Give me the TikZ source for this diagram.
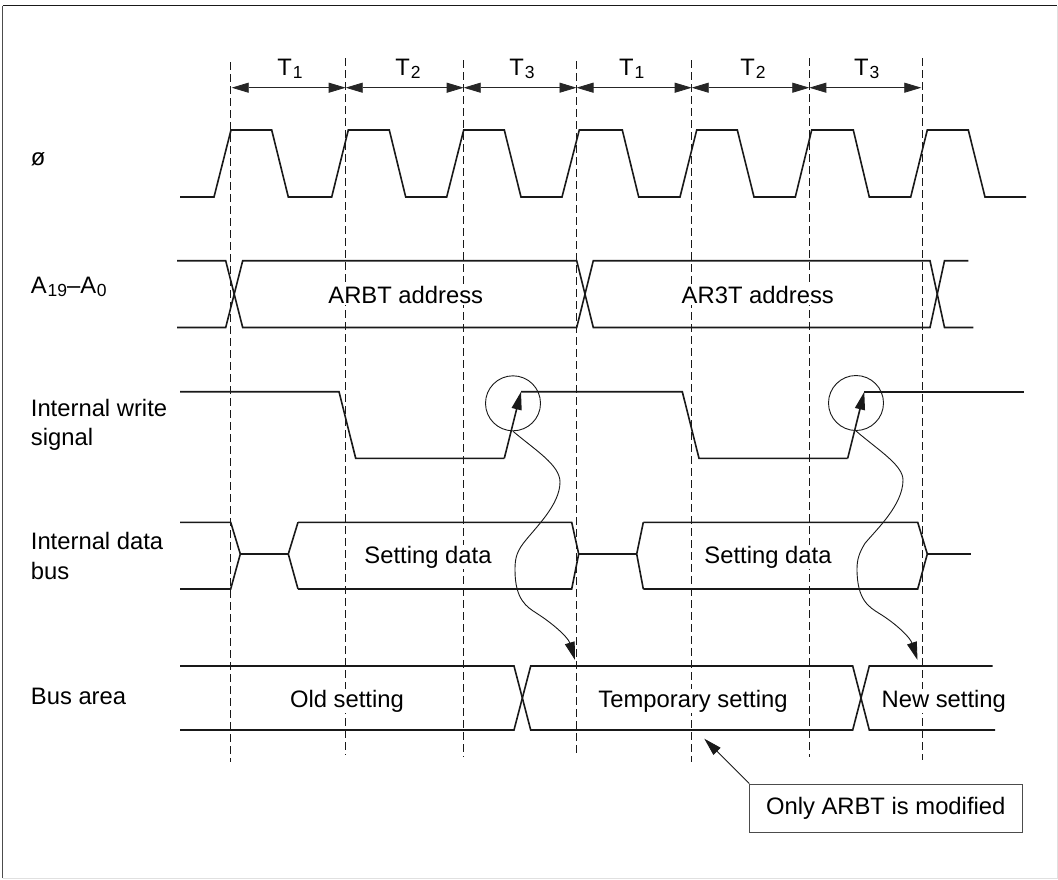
\documentclass[tikz,border=0pt]{standalone}
\usepackage{fontspec}
\setmainfont{Liberation Sans}
\usetikzlibrary{arrows.meta}
\newcommand{\subd}[1]{\kern0.8pt\raisebox{-3.5pt}{\fontsize{17.5}{17.5}\selectfont #1}}
\tikzset{
  sig/.style={line width=1.6pt,black!90,line join=miter},
  guide/.style={line width=0.9pt,black!90,dash pattern=on 7.5pt off 4.5pt},
  span/.style={line width=0.8pt,black!85,{Triangle[length=17pt,width=10pt]}-{Triangle[length=17pt,width=10pt]}},
  wave/.style={line width=0.9pt,black!90,-{Triangle[length=18pt,width=10pt]}},
  ring/.style={circle,draw,line width=0.9pt,black!90,minimum size=55pt,inner sep=0pt},
  lbl/.style={anchor=base west,inner sep=0pt,font=\fontsize{23.8}{24}\selectfont,text=black},
  txt/.style={anchor=base,inner sep=1pt,font=\fontsize{23.8}{24}\selectfont,text=black,fill=white},
  tlab/.style={anchor=base,inner sep=0pt,font=\fontsize{23.8}{24}\selectfont,text=black},
  note/.style={draw=black!70,line width=1.1pt,fill=white,anchor=north west,minimum width=273pt,minimum height=48.3pt,inner sep=0pt},
}
\begin{document}
\begin{tikzpicture}[x=1pt,y=-1pt]
\useasboundingbox (0,0) rectangle (1058,879);
\fill[white] (0,0) rectangle (1058,879);
% frame
\draw[line width=1pt,black!12] (1057.3,5.7) -- (1057.3,878.3) -- (2.7,878.3);
\draw[line width=1.5pt,black!70] (2.7,878.3) -- (2.7,5.7);
\draw[line width=1.3pt,black!90] (2.7,5.7) -- (1057.3,5.7);
% guide lines
\coordinate (g1t) at (230.7,62);  \coordinate (g1b) at (230.7,762);
\coordinate (g2t) at (345.7,58);  \coordinate (g2b) at (345.7,755);
\coordinate (g3t) at (463.7,60);  \coordinate (g3b) at (463.7,757);
\coordinate (g4t) at (576.3,61);  \coordinate (g4b) at (576.3,757);
\coordinate (g5t) at (691.7,60);  \coordinate (g5b) at (691.7,762);
\coordinate (g6t) at (809.3,58);  \coordinate (g6b) at (809.3,757);
\coordinate (g7t) at (922.3,58);  \coordinate (g7b) at (922.3,760);
\foreach \i in {1,...,7} \draw[guide] (g\i t) -- (g\i b);
% period arrows
\coordinate (a1) at (231.7,87.7); \coordinate (a2) at (345.7,87.7);
\coordinate (a3) at (463.7,87.7); \coordinate (a4) at (576.5,87.7);
\coordinate (a5) at (691.7,87.7); \coordinate (a6) at (809.3,87.7);
\coordinate (a7) at (921.3,87.7);
\foreach \i/\j in {1/2,2/3,3/4,4/5,5/6,6/7} \draw[span] (a\i) -- (a\j);
\node[tlab] (t1) at (290,75) {T\subd{1}};
\node[tlab] (t2) at (408,75) {T\subd{2}};
\node[tlab] (t3) at (522,75) {T\subd{3}};
\node[tlab] (t4) at (631.7,75) {T\subd{1}};
\node[tlab] (t5) at (753,75) {T\subd{2}};
\node[tlab] (t6) at (866.7,75) {T\subd{3}};
% clock
\draw[sig] (180,197) -- (214,197) -- (231,130) -- (271.7,130) -- (288.3,197) -- (331.7,197) -- (348.3,130)
  -- (389.3,130) -- (405.7,197) -- (446.7,197) -- (463.7,130) -- (504.3,130) -- (521,197) -- (562,197)
  -- (579.3,130) -- (622.3,130) -- (638.7,197) -- (680,197) -- (696.7,130) -- (737.3,130) -- (754,197)
  -- (795.3,197) -- (811.7,130) -- (853.3,130) -- (869.3,197) -- (910.7,197) -- (927.3,130) -- (968.3,130)
  -- (985,197) -- (1026,197);
% address bus
\draw[sig] (177,260.7) -- (225.7,260.7) -- (242.7,327.5) -- (576.7,327.5) -- (593.3,260.7) -- (930,260.7) -- (944.5,327.5) -- (973.3,327.5);
\draw[sig] (177,327.5) -- (225.7,327.5) -- (242.7,260.7) -- (576.7,260.7) -- (593.3,327.5) -- (930,327.5) -- (944.5,260.7) -- (968.3,260.7);
% write signal
\coordinate (w1) at (504.3,458.3); \coordinate (w1e) at (521,391.7);
\coordinate (w2) at (847.7,458.3); \coordinate (w2e) at (864.3,391.7);
\draw[sig] (180,391.7) -- (339,391.7) -- (355.7,458.3) -- (w1);
\draw[sig] (w1e) -- (682.3,391.7) -- (699,458.3) -- (w2);
\draw[sig] (w2e) -- (1023.7,391.7);
\draw[sig,-{Triangle[length=18pt,width=10pt]}] (w1) -- (w1e);
\draw[sig,-{Triangle[length=18pt,width=10pt]}] (w2) -- (w2e);
% data bus
\draw[sig] (180,522.3) -- (230.7,522.3) -- (240.3,554) -- (230.7,589) -- (180,589);
\draw[sig] (240.3,554) -- (288.3,554);
\draw[sig] (298,522.3) -- (288.3,554) -- (298,589);
\draw[sig] (298,522.3) -- (571.7,522.3) -- (578.7,554) -- (571.7,589) -- (298,589);
\draw[sig] (578.7,554) -- (636.7,554);
\draw[sig] (643.3,522.3) -- (636.7,554) -- (643.3,589);
\draw[sig] (643.3,522.3) -- (917.7,522.3) -- (927.3,554) -- (917.7,589) -- (643.3,589);
\draw[sig] (927.3,554) -- (970.7,554);
% bus area
\draw[sig] (180,666) -- (514,666) -- (530.7,730) -- (852.7,730) -- (869.3,666) -- (992.7,666);
\draw[sig] (180,730) -- (514,730) -- (530.7,666) -- (852.7,666) -- (869.3,730) -- (995,730);
% row labels
\node[lbl] (l1) at (30.7,165.7) {ø};
\node[lbl] (l2) at (30.7,293.3) {A\subd{19}–A\subd{0}};
\node[lbl] (l3) at (30.7,416.7) {Internal write};
\node[lbl] (l3b) at (30.7,445.7) {signal};
\node[lbl] (l4) at (30.7,549.3) {Internal data};
\node[lbl] (l4b) at (30.7,579.3) {bus};
\node[lbl] (l5) at (30.7,704) {Bus area};
% values
\node[txt] (v1) at (405.8,303.5) {ARBT address};
\node[txt] (v2) at (757.8,303.5) {AR3T address};
\node[txt] (v3) at (428,563.5) {Setting data};
\node[txt] (v4) at (768,563.5) {Setting data};
\node[txt] (v5) at (347,707.5) {Old setting};
\node[txt] (v6) at (693,707.5) {Temporary setting};
\node[txt] (v7) at (943.8,707.5) {New setting};
% circles and wavy arrows
\node[ring] (c1) at (513,403.3) {};
\node[ring] (c2) at (856,403) {};
\coordinate (e1) at (575,660);
\coordinate (e2) at (917.5,660);
\draw[wave] (c1.south) .. controls (535,450) and (560,465) .. (560,482)
  .. controls (560,505) and (535,528) .. (523.3,543.3)
  .. controls (516,553) and (515,560) .. (515,570)
  .. controls (515,600) and (527,607) .. (536.7,613.3)
  .. controls (552,623) and (568,637) .. (e1);
\draw[wave] (c2.south) .. controls (878,450) and (903,465) .. (903,480)
  .. controls (903,505) and (876,530) .. (865,543.3)
  .. controls (859,553) and (857,560) .. (857,569)
  .. controls (857,600) and (869,607) .. (879,613.3)
  .. controls (895,623) and (910,637) .. (e2);
% note
\node[note] (box) at (749.3,783.5) {};
\node[tlab] (boxt) at (885.7,814) {Only ARBT is modified};
\coordinate (tip) at (704.3,738.7);
\draw[wave] (box.north west) -- (tip);
\end{tikzpicture}
\end{document}
